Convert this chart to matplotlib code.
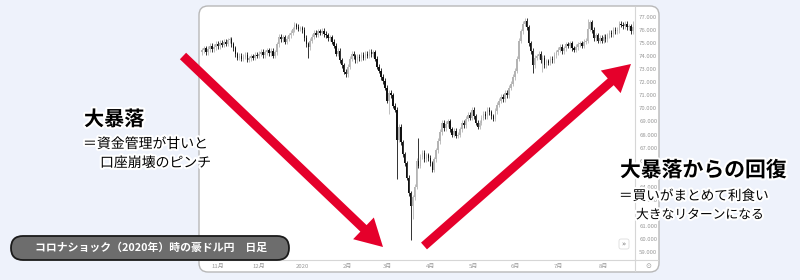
import numpy as np
import pandas as pd
import matplotlib
matplotlib.use("Agg")
import matplotlib.pyplot as plt
import matplotlib.patheffects as pe
from matplotlib.patches import FancyBboxPatch, FancyArrow

plt.rcParams['font.family'] = ['Noto Sans CJK JP', 'DejaVu Sans']

# 豪ドル円 日足 (終値), 2019-10-22 .. 2020-08-24
start_date = "2019-10-22"
first_open = 74.30
closes = [
    # 10月
    74.45, 74.62, 74.30, 74.55, 74.80, 74.52, 74.70, 74.95,
    # 11月
    74.78, 75.05, 74.88, 75.10, 74.95, 75.22, 75.30, 74.90, 74.60, 74.15,
    73.90, 74.05, 73.80, 73.95, 74.10, 73.72, 73.85, 74.00, 73.88, 74.12, 74.05,
    # 12月
    74.20, 74.35, 74.10, 74.30, 74.45, 74.25, 74.40, 74.05, 74.30, 74.90,
    75.50, 75.30, 75.45, 75.10, 75.35, 75.60, 75.80, 76.05, 76.40, 76.25, 76.10, 76.15,
    # 1月
    76.00, 75.40, 74.90, 74.70, 75.20, 75.50, 75.80, 75.65, 75.90, 75.80,
    75.95, 75.70, 75.60, 75.40, 75.45, 75.10, 74.80, 74.20, 74.40, 73.70,
    73.30, 72.80, 72.60,
    # 2月
    73.20, 73.80, 74.20, 74.00, 73.70, 73.95, 73.85, 74.10, 73.90, 74.20,
    74.05, 74.35, 74.15, 74.30, 73.80, 73.20, 72.90, 72.40, 72.10, 71.60,
    # 3月
    70.60, 71.20, 71.00, 70.20, 69.90, 67.60, 68.60, 67.40, 66.50, 65.80,
    64.70, 63.50, 62.50, 63.20, 64.00, 66.00, 65.60, 66.30, 66.60, 66.10, 66.40, 66.20,
    # 4月
    65.80, 65.30, 66.10, 66.80, 67.50, 68.20, 68.90, 68.50, 68.80, 69.00,
    68.40, 68.00, 68.30, 67.90, 68.00, 68.40, 68.90, 68.70, 69.20, 69.50, 69.30, 69.90,
    # 5月
    69.40, 68.90, 68.60, 68.90, 69.30, 69.60, 69.40, 69.90, 69.70, 69.40,
    69.20, 69.80, 70.30, 70.60, 70.90, 70.70, 71.20, 71.00, 71.60, 71.90, 72.40,
    # 6月
    72.90, 73.80, 75.20, 75.90, 76.50, 76.70, 76.20, 75.00, 74.40, 73.30,
    73.90, 74.00, 74.20, 73.70, 73.90, 73.30, 73.60, 73.50, 73.80, 73.70, 74.10, 74.30,
    # 7月
    74.50, 74.70, 74.40, 74.60, 74.90, 74.80, 75.00, 74.60, 74.50, 74.70,
    74.90, 75.00, 74.80, 75.10, 75.20, 76.10, 76.60, 76.00, 75.40, 75.60,
    75.20, 75.40, 75.20,
    # 8月
    75.50, 75.30, 75.60, 75.80, 75.70, 76.00, 75.90, 76.00, 76.50, 76.40,
    76.30, 76.50, 76.20, 76.30, 75.90, 76.20,
]
# 目立つヒゲ (高値 / 安値)
notable_highs = {48: 76.55, 164: 76.90, 196: 76.85, 110: 67.70, 219: 76.70}
notable_lows = {54: 73.90, 73: 72.40, 95: 69.60, 99: 64.60, 106: 59.90,
                107: 61.50, 168: 72.70, 173: 72.80}
wick = 0.2

month_labels = ["11月", "12月", "2020", "2月", "3月", "4月", "5月", "6月", "7月", "8月"]
price_ticks = list(range(59, 78))

n = len(closes)
dates = pd.bdate_range(start_date, periods=n)
opens = [first_open] + closes[:-1]
highs = [notable_highs.get(i, max(o, c) + wick) for i, (o, c) in enumerate(zip(opens, closes))]
lows = [notable_lows.get(i, min(o, c) - wick) for i, (o, c) in enumerate(zip(opens, closes))]
xs = np.arange(n)
month_start = [i for i in range(1, n) if dates[i].month != dates[i - 1].month]

fig = plt.figure(figsize=(8, 2.8), dpi=100)
fig.patch.set_facecolor('#eef2fb')

# 背景パネル
bg = fig.add_axes([0, 0, 1, 1], zorder=0)
bg.set_xlim(0, 800)
bg.set_ylim(280, 0)
bg.axis('off')
bg.add_patch(FancyBboxPatch((199, 6), 460, 266, boxstyle="round,pad=0,rounding_size=9",
                            fc='white', ec='#b8b8b8', lw=1.0))
bg.plot([635, 658], [260, 260], color='#d6d6d6', lw=0.8)
bg.plot([635, 635], [260, 271], color='#d6d6d6', lw=0.8)
bg.text(648, 266, "⊙", family='DejaVu Sans', fontsize=5, color='#999999', ha='center', va='center')

# ローソク足
ax = fig.add_axes([200 / 800, 20 / 280, 435 / 800, 253 / 280], zorder=1)
ax.set_facecolor('none')
up_col, dn_col = '#b4b4b4', '#111111'
cols = [up_col if c >= o else dn_col for o, c in zip(opens, closes)]
ax.vlines(xs, lows, highs, colors=cols, lw=0.6)
body_lo = [min(o, c) for o, c in zip(opens, closes)]
body_h = [max(abs(c - o), 0.05) for o, c in zip(opens, closes)]
ax.bar(xs, body_h, bottom=body_lo, width=0.75, color=cols, lw=0)

ax.set_xlim(-1, n)
ax.set_ylim(58.39, 77.77)
ax.set_xticks([month_start[k] for k in range(len(month_labels))])
ax.set_xticklabels(month_labels)
ax.set_yticks(price_ticks)
ax.set_yticklabels([f"{p}.000" for p in price_ticks])
ax.yaxis.tick_right()
ax.tick_params(length=0, labelsize=4.3, colors='#999999', pad=3)
for s in ['top', 'left']:
    ax.spines[s].set_visible(False)
for s in ['right', 'bottom']:
    ax.spines[s].set_color('#d6d6d6')
    ax.spines[s].set_linewidth(0.8)

# 注釈
ov = fig.add_axes([0, 0, 1, 1], zorder=3)
ov.set_xlim(0, 800)
ov.set_ylim(280, 0)
ov.axis('off')
red = '#e5002b'
ov.add_patch(FancyArrow(183, 56, 200, 191, width=9, head_width=30, head_length=27,
                        length_includes_head=True, color=red, lw=0))
ov.add_patch(FancyArrow(424, 246, 207, -182, width=9, head_width=30, head_length=27,
                        length_includes_head=True, color=red, lw=0))
ov.add_patch(FancyBboxPatch((619, 239), 10, 10, boxstyle="round,pad=0,rounding_size=2",
                            fc='white', ec='#dddddd', lw=0.6))
ov.text(624, 244, "»", family='DejaVu Sans', fontsize=5, color='#777777', ha='center', va='center')

glow = [pe.withStroke(linewidth=3, foreground='white')]
ov.text(84, 119, "大暴落", fontsize=14.5, fontweight='bold', va='center', path_effects=glow)
ov.text(83, 144, "＝資金管理が甘いと", fontsize=10, va='center', path_effects=glow)
ov.text(100, 163, "口座崩壊のピンチ", fontsize=10, va='center', path_effects=glow)
ov.text(620, 170, "大暴落からの回復", fontsize=15, fontweight='bold', va='center', path_effects=glow)
ov.text(619, 196, "＝買いがまとめて利食い", fontsize=9.8, va='center', path_effects=glow)
ov.text(636, 215, "大きなリターンになる", fontsize=9.2, va='center', path_effects=glow)

ov.add_patch(FancyBboxPatch((11, 236), 278, 24, boxstyle="round,pad=0,rounding_size=12",
                            fc='#6d6d6d', ec='#1a1a1a', lw=1.3))
ov.text(151, 248, "コロナショック（2020年）時の豪ドル円　日足", fontsize=7.8, fontweight='bold',
        color='white', ha='center', va='center')

fig.savefig("out.png", dpi=100, facecolor=fig.get_facecolor())
